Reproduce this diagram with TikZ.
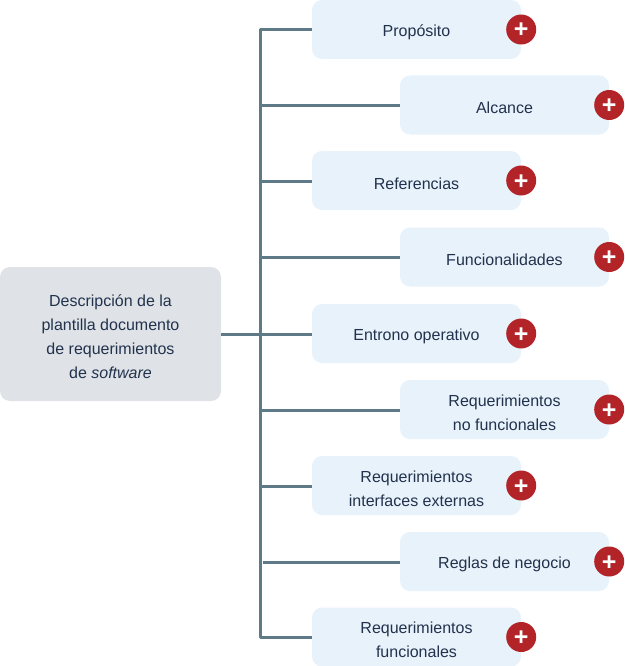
\documentclass[tikz,border=0pt]{standalone}
\usepackage{fontspec}
\setmainfont{Liberation Sans}
\usetikzlibrary{positioning}
\definecolor{linea}{HTML}{5F7A87}
\definecolor{hojafondo}{HTML}{E8F2FB}
\definecolor{raizfondo}{HTML}{DFE3E7}
\definecolor{rojo}{HTML}{B22427}
\definecolor{tinta}{HTML}{22324D}
\newcommand{\baja}[1][17.5pt]{\rule{0pt}{#1}}
\begin{document}
\begin{tikzpicture}[x=1pt,
                    y=-1pt,
                    font=\fontsize{16}{24}\selectfont,
                    text=tinta,
                    raiz/.style={rectangle,rounded corners=10pt,fill=raizfondo,minimum width=221pt,minimum height=134pt,inner sep=0pt,align=center},
                    hoja/.style={rectangle,rounded corners=10pt,fill=hojafondo,minimum width=209pt,minimum height=59pt,inner sep=0pt,align=center},
                    mas/.style={circle,fill=rojo,text=white,minimum size=30pt,inner sep=0pt,font=\fontsize{25}{25}\selectfont\bfseries},
                    rama/.style={draw=linea,line width=3pt},
                    ]
\useasboundingbox (0,0) rectangle (624,666);

% Raiz
\node[raiz] (0) at (110.5,334) {\baja[17pt]Descripción de la\\plantilla documento\\de requerimientos\\de \textit{software}};

% Hojas
\node[hoja] (1) at (416.5,29.5) {\baja Propósito};
\node[hoja] (2) at (504.5,105) {\baja Alcance};
\node[hoja] (3) at (416.5,180.5) {\baja Referencias};
\node[hoja] (4) at (504.5,257) {\baja Funcionalidades};
\node[hoja] (5) at (416.5,333.5) {\baja Entrono operativo};
\node[hoja] (6) at (504.5,409.5) {\baja Requerimientos\\no funcionales};
\node[hoja] (7) at (416.5,485.5) {\baja Requerimientos\\interfaces externas};
\node[hoja] (8) at (504.5,561.5) {\baja Reglas de negocio};
\node[hoja] (9) at (416.5,637) {\baja Requerimientos\\funcionales};

% Botones
\foreach \i in {1,...,9}
  \node[mas,anchor=center] (m\i) at (\i.east) {\raisebox{-8.5pt}[0pt][0pt]{+}};

% Tronco
\coordinate (t1) at (260.5,30);
\coordinate (t2) at (260.5,105.5);
\coordinate (t3) at (260.5,181);
\coordinate (t4) at (260.5,257);
\coordinate (t5) at (260.5,334);
\coordinate (t6) at (260.5,410);
\coordinate (t7) at (260.5,486);
\coordinate (t8) at (263,562);
\coordinate (t9) at (260.5,637);

\draw[rama,line join=round] (1.west |- t1) -- (t1) -- (t9) -- (9.west |- t9);
\draw[rama] (0.east |- t5) -- (5.west |- t5);
\foreach \i in {2,3,4,6,7,8}
  \draw[rama] (t\i) -- (\i.west |- t\i);
\end{tikzpicture}
\end{document}
